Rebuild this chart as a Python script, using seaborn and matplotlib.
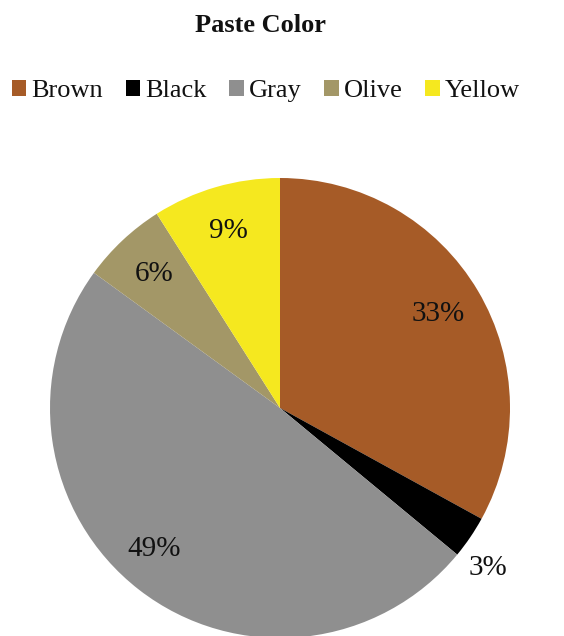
import matplotlib
matplotlib.use("Agg")
import matplotlib.pyplot as plt
import seaborn as sns
import numpy as np
from matplotlib.patches import Patch

categories = ["Brown", "Black", "Gray", "Olive", "Yellow"]
values = [33, 3, 49, 6, 9]
colors = ["#A65B27", "#000000", "#8F8F8F", "#A39767", "#F5E81F"]
title = "Paste Color"

sns.set_theme(style="white")
plt.rcParams['font.family'] = ['Liberation Serif', 'DejaVu Serif']

W, H = 564, 636
fig = plt.figure(figsize=(W / 100, H / 100), dpi=100)
cx, cy, r = 280, 408, 230
ax = fig.add_axes([(cx - r) / W, (H - cy - r) / H, 2 * r / W, 2 * r / H])

wedges, texts, autotexts = ax.pie(
    values, colors=colors, startangle=90, counterclock=False,
    autopct='%1.0f%%', pctdistance=0.80, radius=1,
    wedgeprops=dict(linewidth=0),
    textprops=dict(fontsize=21, color="#111111"))

# label placement tweaks (distance, angle offset in degrees)
tweaks = {1: (1.14, -3.5), 2: (0.82, -4.0)}
for i, (d, off) in tweaks.items():
    w = wedges[i]
    mid = np.deg2rad((w.theta1 + w.theta2) / 2 + off)
    autotexts[i].set_position((d * np.cos(mid), d * np.sin(mid)))

ax.set_xlim(-1, 1)
ax.set_ylim(-1, 1)
ax.set_aspect('equal')
ax.axis('off')

fig.text(0.462, 1 - 26 / H, title, ha='center', va='center',
         fontsize=19, fontweight='bold', color='#111111')

handles = [Patch(facecolor=c, edgecolor='none', label=l) for c, l in zip(colors, categories)]
fig.legend(handles=handles, loc='center', bbox_to_anchor=(0.4715, 1 - 91 / H),
           ncol=5, frameon=False, fontsize=19, handlelength=0.55, handleheight=0.55,
           handletextpad=0.2, columnspacing=0.85, labelcolor='#111111')

fig.savefig("out.png", dpi=100)
